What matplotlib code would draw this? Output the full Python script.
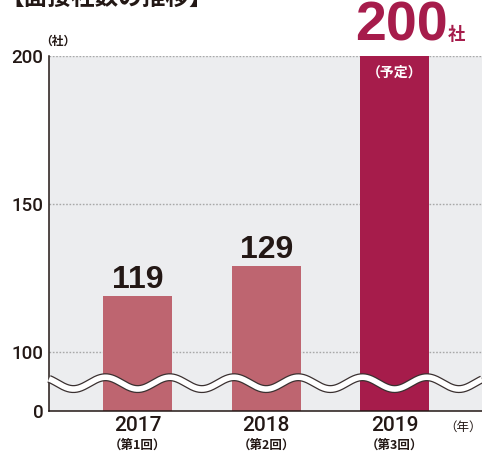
import numpy as np
import matplotlib
matplotlib.use("Agg")
import matplotlib.pyplot as plt

# ---- data ----
years = ["2017", "2018", "2019"]
rounds = ["（第1回）", "（第2回）", "（第3回）"]
values = [119, 129, 200]
value_labels = ["119", "129", "200"]
ytick_values = [100, 150, 200]
ytick_labels = ["100", "150", "200"]

# ---- style ----
DARK = "#231815"
BAR_COLORS = ["#BE6570", "#BE6570", "#A61C4B"]
BG = "#ECEDEF"
GRID = "#A8A8A8"
LATIN = ["Liberation Sans", "DejaVu Sans"]
MED = ["Roboto", "Liberation Sans", "DejaVu Sans"]
CJK = ["Noto Sans CJK JP", "DejaVu Sans"]

fig = plt.figure(figsize=(4.82, 4.70), dpi=100)
ax = fig.add_axes([49 / 482, 59 / 470, 1 - 49 / 482, (411 - 56) / 470])

y_low = 80.2  # broken-axis floor shown as "0"
x = np.arange(len(years))
ax.set_xlim(-0.69, 2.68)
ax.set_ylim(y_low, 200)
ax.set_facecolor(BG)

for yv in ytick_values:
    ax.axhline(yv, color=GRID, lw=1.0, ls=(0, (1.2, 1.2)), zorder=1)

bars = ax.bar(x, values, width=0.537, color=BAR_COLORS, zorder=2)

for s in ["top", "right"]:
    ax.spines[s].set_visible(False)
for s in ["left", "bottom"]:
    ax.spines[s].set_color(DARK)
    ax.spines[s].set_linewidth(1.1)

ax.set_yticks([y_low] + ytick_values)
ax.set_yticklabels(["0"] + ytick_labels, fontsize=13.5, color=DARK, family=MED,
                   fontweight=500)
ax.tick_params(axis="y", length=0, pad=4)
ax.tick_params(axis="x", length=0, pad=3.5)
ax.set_xticks(x)
ax.set_xticklabels(years, fontsize=15, color=DARK, family=MED, fontweight=500)

xt = ax.get_xaxis_transform()
for xi, r in zip(x, rounds):
    ax.text(xi, -0.079, r, transform=xt, ha="center", va="top", fontsize=9,
            fontweight="bold", color=DARK, family=CJK)
ax.text(2.675, -0.028, "（年）", transform=xt, ha="right", va="top", fontsize=9,
        color=DARK, family=CJK, clip_on=False)
ax.text(-0.69 - 0.065, 1.022, "（社）", transform=xt,
        ha="left", va="bottom", fontsize=8.5, fontweight="bold", color=DARK, family=CJK)

# wave break
wx = np.linspace(-0.69, 2.68, 800)
wy = 89.6 - 2.0 * np.cos(4 * np.pi * wx)
ax.plot(wx, wy, color="#3a3030", lw=5.8, zorder=5, clip_on=False, solid_capstyle="butt")
ax.plot(wx, wy, color="white", lw=4.0, zorder=6, clip_on=False, solid_capstyle="butt")

# value labels
for i in range(2):
    ax.annotate(value_labels[i], (x[i], values[i]), xytext=(0, 6), textcoords="offset points",
                ha="center", va="baseline", fontsize=23, fontweight="bold", color=DARK,
                family=LATIN)
ax.annotate(value_labels[2], (x[2], values[2]), xytext=(5, 11), textcoords="offset points",
            ha="center", va="baseline", fontsize=40, fontweight="bold", color=BAR_COLORS[2],
            family=LATIN)
ax.annotate("社", (x[2], values[2]), xytext=(38, 11.5), textcoords="offset points",
            ha="left", va="baseline", fontsize=12.5, fontweight="bold", color=BAR_COLORS[2],
            family=CJK)
ax.annotate("（予定）", (x[2], values[2]), xytext=(0, -12), textcoords="offset points",
            ha="center", va="center", fontsize=10, fontweight="bold", color="white",
            family=CJK)

# title (cropped at top)
fig.text(0.0, 1 + 2 / 470, "【面接社数の推移】", ha="left", va="center", fontsize=17,
         fontweight="bold", color=DARK, family=CJK)

fig.savefig("out.png", dpi=100)
